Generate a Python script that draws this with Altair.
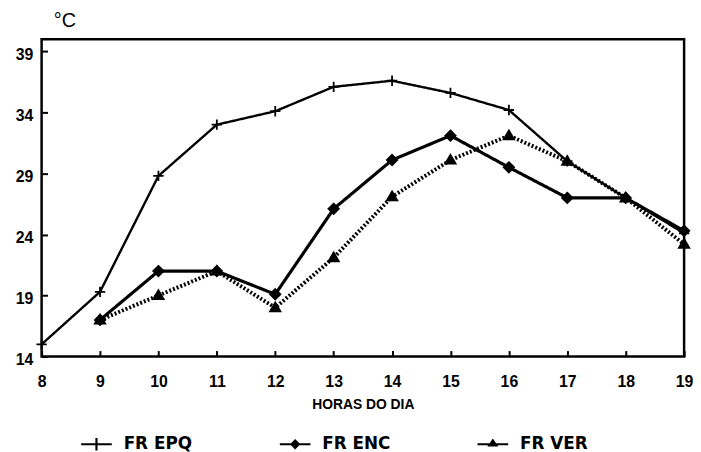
import altair as alt
import pandas as pd

# ---- data ----
series_names = ["FR EPQ", "FR ENC", "FR VER"]
hours_epq = [8, 9, 10, 11, 12, 13, 14, 15, 16, 17, 18, 19]
fr_epq = [15.0, 19.3, 28.8, 33.0, 34.1, 36.1, 36.6, 35.6, 34.2, 30.0, 27.0, 24.1]
hours_other = [9, 10, 11, 12, 13, 14, 15, 16, 17, 18, 19]
fr_enc = [17.0, 21.0, 21.0, 19.1, 26.1, 30.1, 32.1, 29.5, 27.0, 27.0, 24.3]
fr_ver = [17.0, 19.0, 21.0, 18.0, 22.1, 27.1, 30.1, 32.1, 30.0, 27.0, 23.2]
x_ticks = list(range(8, 20))
y_ticks = [14, 19, 24, 29, 34, 39]

rows = []
for h, v in zip(hours_epq, fr_epq):
    rows.append({"hora": h, "temp": v, "serie": "FR EPQ"})
for h, v in zip(hours_other, fr_enc):
    rows.append({"hora": h, "temp": v, "serie": "FR ENC"})
for h, v in zip(hours_other, fr_ver):
    rows.append({"hora": h, "temp": v, "serie": "FR VER"})
df = pd.DataFrame(rows)

FONT = "Liberation Sans"

x_enc = alt.X(
    "hora:Q",
    scale=alt.Scale(domain=[8, 19], nice=False, zero=False),
    axis=alt.Axis(
        values=x_ticks, format="d", title="HORAS DO DIA", grid=False, domain=False,
        offset=-6, tickSize=6, tickWidth=2, tickColor="black",
        labelFont=FONT, labelFontSize=16, labelFontWeight="bold", labelColor="black",
        labelPadding=17, labelFlush=False,
        titleFont=FONT, titleFontSize=14, titleFontWeight="bold", titleColor="black",
        titlePadding=9,
    ),
)
y_enc = alt.Y(
    "temp:Q",
    scale=alt.Scale(domain=[14, 40], nice=False, zero=False),
    axis=alt.Axis(
        values=y_ticks, format="d", title="°C", grid=False, domain=False,
        offset=-6, tickSize=6, tickWidth=2, tickColor="black",
        labelFont=FONT, labelFontSize=16, labelFontWeight="bold", labelColor="black",
        labelPadding=9, labelOffset=3, labelFlush=False,
        titleFont=FONT, titleFontSize=20, titleFontWeight="normal", titleColor="black",
        titleAngle=0, titleX=17, titleY=-19, titleAlign="center", titleBaseline="middle",
    ),
)

lines = alt.Chart(df).mark_line(color="black").encode(
    x=x_enc,
    y=y_enc,
    detail="serie:N",
    strokeWidth=alt.StrokeWidth(
        "serie:N",
        scale=alt.Scale(domain=series_names, range=[2.4, 4, 1.8]),
        legend=None,
    ),
    strokeDash=alt.StrokeDash(
        "serie:N",
        scale=alt.Scale(domain=series_names, range=[[1, 0], [1, 0], [2, 2]]),
        legend=None,
    ),
)

marker_paths = [
    "M-1,0H1M0,-1V1",
    "M0,-1L1,0L0,1L-1,0Z",
    "M0,-1L1,0.7L-1,0.7Z",
]
points = alt.Chart(df).mark_point(
    filled=True, fill="black", stroke="black", strokeWidth=1.8, opacity=1, size=110
).encode(
    x="hora:Q",
    y="temp:Q",
    shape=alt.Shape(
        "serie:N",
        scale=alt.Scale(domain=series_names, range=marker_paths),
        legend=None,
    ),
)

# legend symbols: filled outlines of "line + marker"
legend_paths = [
    "M-1,-0.07H1V0.07H-1ZM-0.07,-0.4H0.07V0.4H-0.07Z",
    "M-1,-0.07H1V0.07H-1ZM0,-0.34L0.34,0L0,0.34L-0.34,0Z",
    "M-1,-0.07H1V0.07H-1ZM0,-0.38L0.36,0.14L-0.36,0.14Z",
]
legend_layer = alt.Chart(df).transform_filter("false").mark_point(
    filled=True, fill="black", opacity=1
).encode(
    x="hora:Q",
    y="temp:Q",
    shape=alt.Shape(
        "serie:N",
        scale=alt.Scale(domain=series_names, range=legend_paths),
        legend=alt.Legend(
            title=None, orient="none", direction="horizontal",
            legendX=40, legendY=394, padding=0,
            symbolSize=961, symbolStrokeWidth=0,
            symbolFillColor="black", symbolOpacity=1,
            labelFont="DejaVu Sans", labelFontSize=17, labelFontWeight="bold",
            labelColor="black",
            labelOffset=12, columnPadding=88, labelLimit=200,
        ),
    ),
)

chart = (
    alt.layer(lines, points, legend_layer)
    .resolve_scale(shape="independent")
    .properties(
        width=650,
        height=321,
        autosize=alt.AutoSizeParams(type="none"),
        padding={"left": 34, "top": 29, "right": 9, "bottom": 94},
        background="white",
    )
    .configure_view(stroke="black", strokeWidth=2.5)
)

chart.save("out.html", embed_options={"renderer": "svg", "actions": False})
